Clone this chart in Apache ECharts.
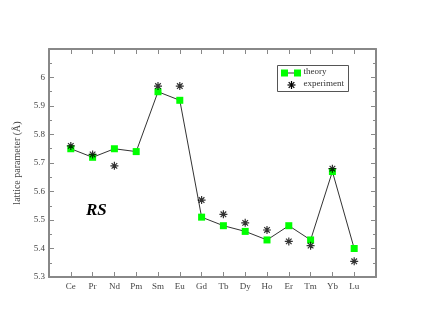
<!DOCTYPE html>
<html>
<head>
<meta charset="utf-8">
<script src="https://cdn.jsdelivr.net/npm/echarts@6/dist/echarts.min.js"></script>
<style>
  html, body { margin: 0; padding: 0; background: #fff; }
  #chart { width: 423px; height: 327px; }
</style>
</head>
<body>
<div id="chart"></div>
<script>
// lanthanide monosulfides, rock-salt structure
var elements = ['Ce', 'Pr', 'Nd', 'Pm', 'Sm', 'Eu', 'Gd', 'Tb', 'Dy', 'Ho', 'Er', 'Tm', 'Yb', 'Lu'];
var theory = [5.75, 5.72, 5.75, 5.74, 5.95, 5.92, 5.51, 5.48, 5.46, 5.43, 5.48, 5.43, 5.67, 5.40];
var experiment = [5.76, 5.73, 5.69, null, 5.97, 5.97, 5.57, 5.52, 5.49, 5.465, 5.425, 5.41, 5.68, 5.355];

var serif = 'Liberation Serif';
var starPath = 'path://M0,-5L0,5M-5,0L5,0M-3.5,-3.5L3.5,3.5M-3.5,3.5L3.5,-3.5';

var theoryPts = theory.map(function (v, i) { return [i + 1, v]; });
var expPts = [];
experiment.forEach(function (v, i) { if (v != null) expPts.push([i + 1, v]); });

var axisGray = '#888';
var frame = { show: true, onZero: false, lineStyle: { color: axisGray, width: 2 } };
var ticks = { show: true, inside: true, length: 5, lineStyle: { color: axisGray, width: 1 } };
var minor = { show: true, splitNumber: 2, length: 3, lineStyle: { color: axisGray, width: 1 } };

// star for the legend box, as four short strokes
function starLines(cx, cy) {
  var d = [[0, -4, 0, 4], [-4, 0, 4, 0], [-2.8, -2.8, 2.8, 2.8], [-2.8, 2.8, 2.8, -2.8]];
  return d.map(function (s) {
    return { type: 'line', shape: { x1: cx + s[0], y1: cy + s[1], x2: cx + s[2], y2: cy + s[3] },
      style: { stroke: '#000', lineWidth: 1.2 } };
  });
}

var chart = echarts.init(document.getElementById('chart'));
chart.setOption({
  animation: false,
  backgroundColor: '#fff',
  grid: { left: 49, top: 49, right: 47, bottom: 50 },
  xAxis: [{
    type: 'value', min: 0, max: 15, interval: 1,
    axisLine: frame, axisTick: ticks,
    splitLine: { show: false },
    axisLabel: {
      margin: 5, fontFamily: serif, fontSize: 9, color: '#444',
      formatter: function (v) { return elements[v - 1] || ''; }
    }
  }, {
    type: 'value', position: 'top', min: 0, max: 15, interval: 1,
    axisLine: frame, axisTick: ticks,
    splitLine: { show: false },
    axisLabel: { show: false }
  }],
  yAxis: [{
    type: 'value', min: 5.3, max: 6.1, interval: 0.1,
    name: 'lattice parameter (Å)', nameLocation: 'middle', nameGap: 21,
    nameTextStyle: { fontFamily: serif, fontSize: 10, color: '#444' },
    axisLine: frame, axisTick: ticks, minorTick: minor,
    splitLine: { show: false },
    axisLabel: {
      margin: 4, fontFamily: serif, fontSize: 9, color: '#444',
      formatter: function (v) {
        var r = Math.round(v * 10) / 10;
        return r > 6.05 ? '' : String(r);
      }
    }
  }, {
    type: 'value', position: 'right', min: 5.3, max: 6.1, interval: 0.1,
    axisLine: frame, axisTick: ticks, minorTick: minor,
    splitLine: { show: false },
    axisLabel: { show: false }
  }],
  series: [{
    // invisible copy on the mirrored axes so they get ticks too
    type: 'line', data: theoryPts, xAxisIndex: 1, yAxisIndex: 1,
    symbol: 'none', silent: true, lineStyle: { opacity: 0 }, z: 0
  }, {
    name: 'theory', type: 'line', data: theoryPts,
    symbol: 'rect', symbolSize: 7,
    itemStyle: { color: '#00ff00' },
    lineStyle: { color: '#333', width: 1 },
    z: 2
  }, {
    name: 'experiment', type: 'scatter', data: expPts,
    symbol: starPath, symbolSize: 8,
    itemStyle: { color: 'transparent', borderColor: '#000', borderWidth: 1.2 },
    z: 3
  }],
  graphic: [{
    type: 'text', left: 86, top: 202,
    style: { text: 'RS', font: 'italic bold 17px "Liberation Serif"', fill: '#000' }
  }, {
    type: 'group', left: 277, top: 65,
    children: [
      { type: 'rect', shape: { x: 0, y: 0, width: 71, height: 26 },
        style: { fill: '#fff', stroke: '#555', lineWidth: 1 } },
      { type: 'line', shape: { x1: 6, y1: 7.5, x2: 20, y2: 7.5 },
        style: { stroke: '#333', lineWidth: 1 } },
      { type: 'rect', shape: { x: 3.5, y: 4, width: 7, height: 7 }, style: { fill: '#00ff00' } },
      { type: 'rect', shape: { x: 16.5, y: 4, width: 7, height: 7 }, style: { fill: '#00ff00' } },
      { type: 'text', x: 26, y: 2, style: { text: 'theory', font: '9px "Liberation Serif"', fill: '#333' } },
      { type: 'text', x: 26, y: 14, style: { text: 'experiment', font: '9px "Liberation Serif"', fill: '#333' } }
    ].concat(starLines(14, 19.5))
  }]
});
</script>
</body>
</html>
